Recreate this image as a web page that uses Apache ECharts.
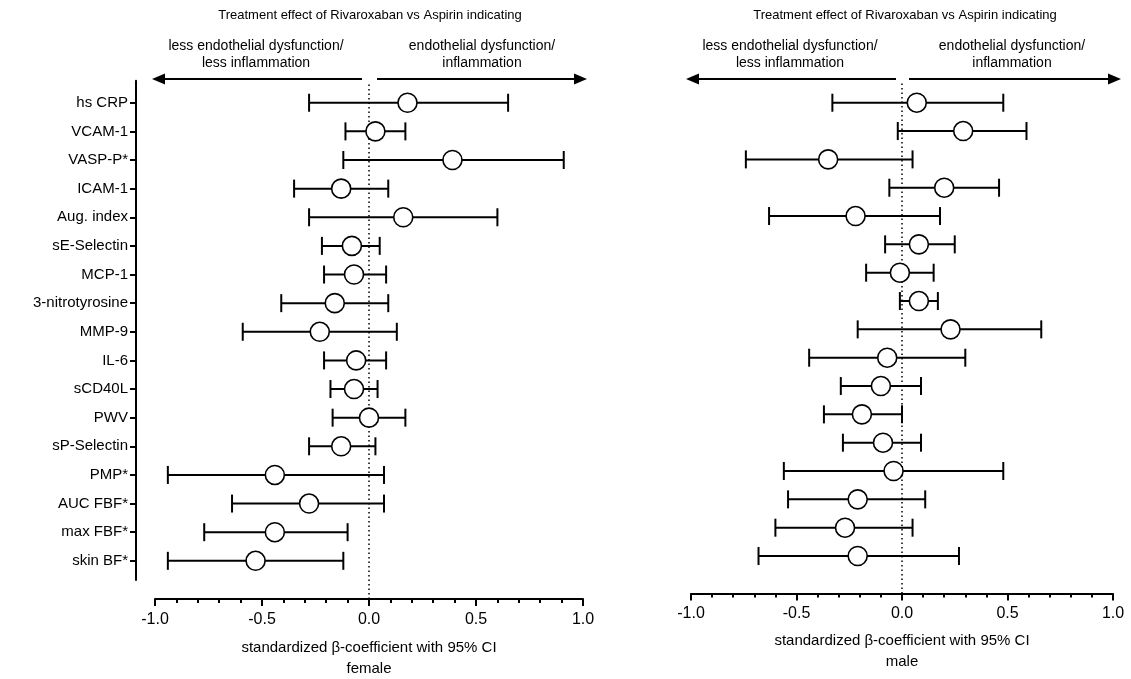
<!DOCTYPE html>
<html>
<head>
<meta charset="utf-8">
<script src="https://cdn.jsdelivr.net/npm/echarts@6.0.0/dist/echarts.min.js"></script>
<style>
html, body { margin: 0; padding: 0; background: #fff; }
#chart { width: 1131px; height: 679px; }
</style>
</head>
<body>
<div id="chart"></div>
<script>
// markers, top to bottom
var markers = ['hs CRP', 'VCAM-1', 'VASP-P*', 'ICAM-1', 'Aug. index', 'sE-Selectin', 'MCP-1',
    '3-nitrotyrosine', 'MMP-9', 'IL-6', 'sCD40L', 'PWV', 'sP-Selectin', 'PMP*', 'AUC FBF*',
    'max FBF*', 'skin BF*'];

// female: standardized beta with 95% CI
var femaleBeta = [0.18, 0.03, 0.39, -0.13, 0.16, -0.08, -0.07, -0.16, -0.23, -0.06, -0.07, 0.00,
    -0.13, -0.44, -0.28, -0.44, -0.53];
var femaleLow = [-0.28, -0.11, -0.12, -0.35, -0.28, -0.22, -0.21, -0.41, -0.59, -0.21, -0.18, -0.17,
    -0.28, -0.94, -0.64, -0.77, -0.94];
var femaleHigh = [0.65, 0.17, 0.91, 0.09, 0.60, 0.05, 0.08, 0.09, 0.13, 0.08, 0.04, 0.17,
    0.03, 0.07, 0.07, -0.10, -0.12];

// male
var maleBeta = [0.07, 0.29, -0.35, 0.20, -0.22, 0.08, -0.01, 0.08, 0.23, -0.07, -0.10, -0.19,
    -0.09, -0.04, -0.21, -0.27, -0.21];
var maleLow = [-0.33, -0.02, -0.74, -0.06, -0.63, -0.08, -0.17, -0.01, -0.21, -0.44, -0.29, -0.37,
    -0.28, -0.56, -0.54, -0.60, -0.68];
var maleHigh = [0.48, 0.59, 0.05, 0.46, 0.18, 0.25, 0.15, 0.17, 0.66, 0.30, 0.09, 0.00,
    0.09, 0.48, 0.11, 0.05, 0.27];

var xMin = -1, xMax = 1, xStep = 0.5;

var FONT = '"Liberation Sans", Arial, sans-serif';
var rowIdx = markers.map(function (m, i) { return i; });

function ciData(low, high) {
    return markers.map(function (m, i) { return [low[i], high[i], i]; });
}
function pointData(beta) {
    return markers.map(function (m, i) { return [beta[i], i]; });
}

// whisker with end caps
function renderCI(params, api) {
    var a = api.coord([api.value(0), api.value(2)]);
    var b = api.coord([api.value(1), api.value(2)]);
    var h = 9;
    var st = { stroke: '#000', lineWidth: 2 };
    return {
        type: 'group',
        children: [
            { type: 'line', shape: { x1: a[0], y1: a[1], x2: b[0], y2: b[1] }, style: st },
            { type: 'line', shape: { x1: a[0], y1: a[1] - h, x2: a[0], y2: a[1] + h }, style: st },
            { type: 'line', shape: { x1: b[0], y1: b[1] - h, x2: b[0], y2: b[1] + h }, style: st }
        ]
    };
}

function dataX(idx) {
    return { gridIndex: idx, type: 'value', min: xMin, max: xMax, show: false };
}
function visibleX(idx, title, margin, gap) {
    return {
        gridIndex: idx, type: 'value', min: xMin, max: xMax, interval: xStep,
        axisLine: { onZero: false, lineStyle: { color: '#000', width: 2 } },
        axisTick: { length: 7, lineStyle: { color: '#000', width: 2 } },
        minorTick: { show: true, splitNumber: 5, length: 4, lineStyle: { color: '#000', width: 2 } },
        splitLine: { show: false },
        axisLabel: {
            color: '#000', fontFamily: FONT, fontSize: 16, margin: margin,
            formatter: function (v) { return v.toFixed(1); }
        },
        name: 'standardized β-coefficient with 95% CI\n' + title,
        nameLocation: 'middle', nameGap: gap,
        nameTextStyle: { color: '#000', fontFamily: FONT, fontSize: 15, lineHeight: 21 }
    };
}
function rowY(idx, showAxis) {
    var ax = {
        gridIndex: idx, type: 'value', inverse: true, min: -0.77, max: 16.67,
        splitLine: { show: false }
    };
    if (showAxis) {
        ax.offset = 19;
        ax.axisLine = { show: true, onZero: false, lineStyle: { color: '#000', width: 2 } };
        ax.axisTick = { show: true, length: 6, customValues: rowIdx, lineStyle: { color: '#000', width: 2 } };
        ax.axisLabel = {
            show: true, customValues: rowIdx, margin: 8, color: '#000', fontFamily: FONT, fontSize: 15,
            formatter: function (v) { return markers[Math.round(v)]; }
        };
    } else {
        ax.show = false;
    }
    return ax;
}
function hiddenY(idx) {
    return { gridIndex: idx, type: 'value', min: 0, max: 1, show: false };
}

function zeroLine(xi, yi) {
    return {
        type: 'scatter', xAxisIndex: xi, yAxisIndex: yi, data: [], silent: true,
        markLine: {
            silent: true, symbol: 'none', label: { show: false },
            lineStyle: { color: '#000', width: 1.5, type: [1.5, 3] },
            data: [{ xAxis: 0 }]
        }
    };
}
function ciSeries(xi, yi, low, high) {
    return {
        type: 'custom', xAxisIndex: xi, yAxisIndex: yi, renderItem: renderCI,
        data: ciData(low, high), z: 3, silent: true
    };
}
function dotSeries(xi, yi, beta) {
    return {
        type: 'scatter', xAxisIndex: xi, yAxisIndex: yi, data: pointData(beta),
        symbol: 'circle', symbolSize: 19, z: 5, silent: true,
        itemStyle: { color: '#fff', borderColor: '#000', borderWidth: 1.6, opacity: 1 }
    };
}

function arrow(x1, x2, y) {
    var dir = x2 > x1 ? 1 : -1;
    var base = x2 - dir * 13;
    return [
        { type: 'line', shape: { x1: x1, y1: y, x2: base, y2: y }, style: { stroke: '#000', lineWidth: 2 } },
        { type: 'polygon', shape: { points: [[x2, y], [base, y - 5.5], [base, y + 5.5]] }, style: { fill: '#000' } }
    ];
}
function txt(x, y, s, size) {
    return {
        type: 'text', x: x, y: y,
        style: { text: s, align: 'center', verticalAlign: 'middle', fill: '#000',
            font: size + 'px ' + FONT, lineHeight: 17 }
    };
}

var chart = echarts.init(document.getElementById('chart'));

var graphics = [
    txt(370, 15, 'Treatment effect of Rivaroxaban vs Aspirin indicating', 13),
    txt(905, 15, 'Treatment effect of Rivaroxaban vs Aspirin indicating', 13),
    txt(256, 55, 'less endothelial dysfunction/\nless inflammation', 14),
    txt(482, 55, 'endothelial dysfunction/\ninflammation', 14),
    txt(790, 55, 'less endothelial dysfunction/\nless inflammation', 14),
    txt(1012, 55, 'endothelial dysfunction/\ninflammation', 14)
].concat(arrow(362, 152, 79), arrow(377, 587, 79), arrow(896, 686, 79), arrow(909, 1121, 79));

var option = {
    backgroundColor: '#fff',
    animation: false,
    grid: [
        { left: 155, top: 80.7, width: 428, height: 499.3, outerBoundsMode: 'none' },
        { left: 155, top: 82, width: 428, height: 517, outerBoundsMode: 'none' },
        { left: 691, top: 80.9, width: 422, height: 494.1, outerBoundsMode: 'none' },
        { left: 691, top: 82, width: 422, height: 511.5, outerBoundsMode: 'none' }
    ],
    xAxis: [dataX(0), visibleX(1, 'female', 13, 38), dataX(2), visibleX(3, 'male', 12, 37)],
    yAxis: [rowY(0, true), hiddenY(1), rowY(2, false), hiddenY(3)],
    graphic: graphics,
    series: [
        zeroLine(1, 1),
        ciSeries(0, 0, femaleLow, femaleHigh),
        dotSeries(0, 0, femaleBeta),
        zeroLine(3, 3),
        ciSeries(2, 2, maleLow, maleHigh),
        dotSeries(2, 2, maleBeta)
    ]
};

chart.setOption(option);
</script>
</body>
</html>
